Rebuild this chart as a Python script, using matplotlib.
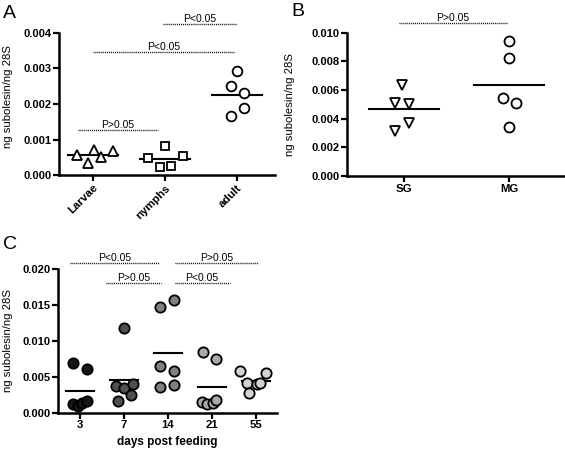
import matplotlib
matplotlib.use("Agg")
import matplotlib.pyplot as plt
import numpy as np

plt.rcParams['font.family'] = ['Liberation Sans', 'DejaVu Sans']

# ---------------- data ----------------
a_categories = ["Larvae", "nymphs", "adult"]
a_larvae = [0.00056, 0.00033, 0.00070, 0.00052, 0.00068]
a_nymphs = [0.00047, 0.00023, 0.00081, 0.00026, 0.00054]
a_adult = [0.00294, 0.00252, 0.00232, 0.00189, 0.00165]
a_jitter = [[-0.22, -0.07, 0.01, 0.11, 0.28],
            [-0.24, -0.07, 0.0, 0.09, 0.25],
            [0.0, -0.08, 0.1, 0.1, -0.08]]
a_yticks = [0.000, 0.001, 0.002, 0.003, 0.004]
a_sig = [(0.97, 2.0, 0.00425, "P<0.05"),
         (0.0, 1.97, 0.00346, "P<0.05"),
         (-0.2, 0.9, 0.00128, "P>0.05")]

b_categories = ["SG", "MG"]
b_sg = [0.00635, 0.00512, 0.00502, 0.00372, 0.00314]
b_mg = [0.00940, 0.00821, 0.00547, 0.00509, 0.00342]
b_jitter = [[-0.02, -0.08, 0.05, 0.05, -0.08],
            [0.0, 0.0, -0.06, 0.06, 0.0]]
b_yticks = [0.000, 0.002, 0.004, 0.006, 0.008, 0.010]
b_sig = [(-0.05, 0.98, 0.0107, "P>0.05")]

c_categories = ["3", "7", "14", "21", "55"]
c_day3 = [0.00697, 0.00610, 0.00120, 0.00100, 0.00130, 0.00160]
c_day7 = [0.01177, 0.00377, 0.00349, 0.00400, 0.00251, 0.00163]
c_day14 = [0.01479, 0.01572, 0.00656, 0.00586, 0.00354, 0.00386]
c_day21 = [0.00842, 0.00749, 0.00153, 0.00117, 0.00131, 0.00177]
c_day55 = [0.00582, 0.00550, 0.00418, 0.00400, 0.00420, 0.00270]
c_jitter = [[-0.15, 0.15, -0.15, -0.05, 0.04, 0.15],
            [0.0, -0.18, 0.0, 0.2, 0.16, -0.14],
            [-0.17, 0.14, -0.17, 0.14, -0.17, 0.14],
            [-0.2, 0.1, -0.22, -0.12, 0.02, 0.1],
            [-0.37, 0.24, -0.2, 0.03, 0.09, -0.16]]
c_colors = ["#151515", "#4f4f4f", "#808080", "#a9a9a9", "#d2d2d2"]
c_yticks = [0.000, 0.005, 0.010, 0.015, 0.020]
c_sig_top = [(-0.23, 1.8, 0.0209, "P<0.05"),
             (2.15, 4.05, 0.0209, "P>0.05")]
c_sig_low = [(0.6, 1.85, 0.01805, "P>0.05"),
             (2.15, 3.4, 0.01805, "P<0.05")]

# ---------------- styling helpers ----------------
fig = plt.figure(figsize=(5.65, 4.5), dpi=100)

def style_axes(ax, yticks, fmt):
    for s in ["top", "right"]:
        ax.spines[s].set_visible(False)
    for s in ["left", "bottom"]:
        ax.spines[s].set_linewidth(1.8)
    ax.tick_params(axis='both', width=1.6, length=4, direction='out', labelsize=8, pad=1.5)
    ax.set_yticks(yticks)
    ax.set_yticklabels([fmt.format(v) for v in yticks], fontweight='bold')
    ax.set_ylim(yticks[0], yticks[-1])
    ax.set_ylabel("ng subolesin/ng 28S", fontsize=8.2)

def sig_lines(ax, items, fs=7.5):
    for x1, x2, y, t in items:
        ax.plot([x1, x2], [y, y], linestyle=(0, (0.7, 0.7)), color='black', lw=1.0, clip_on=False)
        ax.text((x1 + x2) / 2, y, t, ha='center', va='bottom', fontsize=fs, clip_on=False)

def mean_line(ax, x, vals, hw=0.33):
    m = np.mean(vals)
    ax.plot([x - hw, x + hw], [m, m], color='black', lw=1.5, zorder=3)

# ---------------- Panel A ----------------
axA = fig.add_axes([59 / 565, 1 - 175 / 450, 216 / 565, 142 / 450])
style_axes(axA, a_yticks, "{:.3f}")
markersA = ['^', 's', 'o']
for i, vals in enumerate([a_larvae, a_nymphs, a_adult]):
    xs = np.full(len(vals), i) + np.array(a_jitter[i])
    axA.plot(xs, vals, linestyle='none', marker=markersA[i], ms=7.0 if i != 1 else 6.4,
             mfc='white', mec='black', mew=1.3, zorder=4)
    mean_line(axA, i, vals, 0.35)
axA.set_xlim(-0.47, 2.53)
axA.set_xticks(range(len(a_categories)))
axA.set_xticklabels(a_categories, rotation=45, ha='right', va='top', rotation_mode='anchor',
                    fontweight='bold', fontsize=8.2)
sig_lines(axA, a_sig)
axA.yaxis.set_label_coords(-0.215, 0.55)
fig.text(3 / 565, 1 - 18 / 450, "A", fontsize=14, va='baseline')

# ---------------- Panel B ----------------
axB = fig.add_axes([347 / 565, 1 - 176 / 450, 217 / 565, 143.3 / 450])
style_axes(axB, b_yticks, "{:.3f}")
markersB = ['v', 'o']
for i, vals in enumerate([b_sg, b_mg]):
    xs = np.full(len(vals), i) + np.array(b_jitter[i])
    axB.plot(xs, vals, linestyle='none', marker=markersB[i], ms=7.2,
             mfc='white', mec='black', mew=1.3, zorder=4)
    mean_line(axB, i, vals, 0.33)
axB.set_xlim(-0.54, 1.52)
axB.set_xticks(range(len(b_categories)))
axB.set_xticklabels(b_categories, fontweight='bold', fontsize=8.2)
sig_lines(axB, b_sig)
axB.yaxis.set_label_coords(-0.239, 0.5)
fig.text(291 / 565, 1 - 16 / 450, "B", fontsize=14, va='baseline')

# ---------------- Panel C ----------------
axC = fig.add_axes([58 / 565, 1 - 412.7 / 450, 219 / 565, 143.4 / 450])
style_axes(axC, c_yticks, "{:.3f}")
for i, vals in enumerate([c_day3, c_day7, c_day14, c_day21, c_day55]):
    xs = np.full(len(vals), i) + np.array(c_jitter[i])
    axC.plot(xs, vals, linestyle='none', marker='o', ms=7.4,
             mfc=c_colors[i], mec='black', mew=1.3, zorder=4)
    mean_line(axC, i, vals, 0.32)
axC.set_xlim(-0.5, 4.48)
axC.set_xticks(range(len(c_categories)))
axC.set_xticklabels(c_categories, fontweight='bold', fontsize=8.2)
axC.set_xlabel("days post feeding", fontsize=8.5, fontweight='bold', labelpad=4)
sig_lines(axC, c_sig_top)
sig_lines(axC, c_sig_low)
axC.yaxis.set_label_coords(-0.205, 0.5)
fig.text(3 / 565, 1 - 249 / 450, "C", fontsize=14, va='baseline')

fig.savefig("out.png", dpi=100)
